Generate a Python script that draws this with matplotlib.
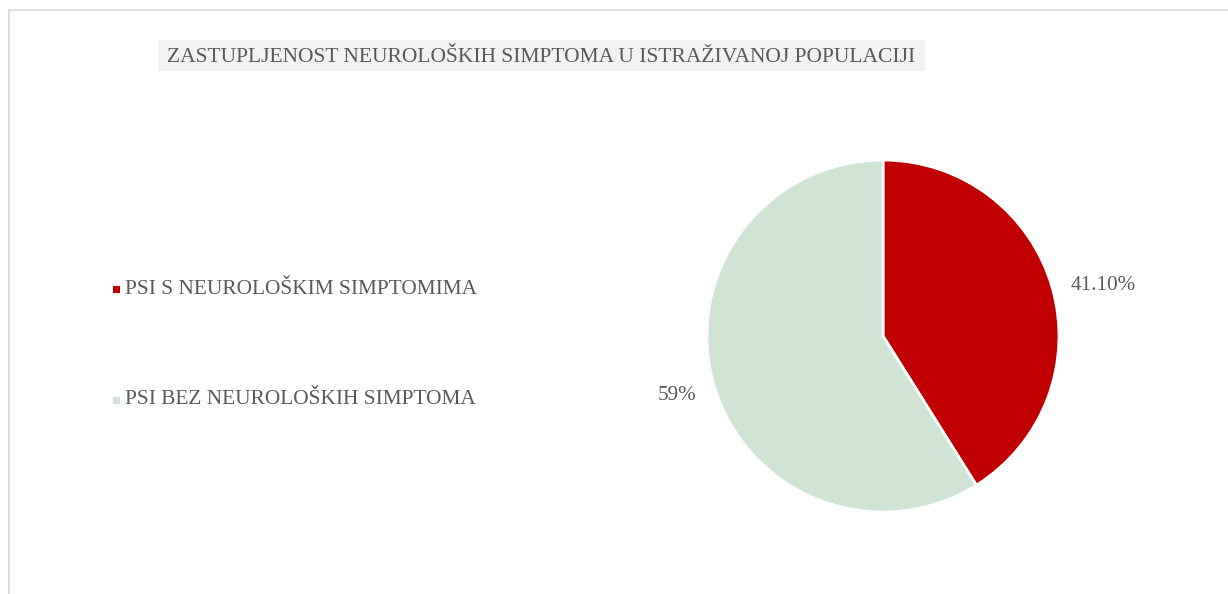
import matplotlib.pyplot as plt
from matplotlib.patches import Rectangle
import numpy as np

plt.rcParams['font.family'] = ['Liberation Serif', 'DejaVu Serif']

title = 'ZASTUPLJENOST NEUROLOŠKIH SIMPTOMA U ISTRAŽIVANOJ POPULACIJI'
categories = ['PSI S NEUROLOŠKIM SIMPTOMIMA', 'PSI BEZ NEUROLOŠKIH SIMPTOMA']
values = [41.1, 58.9]
value_labels = ['41.10%', '59%']
colors = ['#C00000', '#CFE4D4']
text_color = '#595959'

W, H = 1228, 594
fig = plt.figure(figsize=(W / 100, H / 100), dpi=100)

# outer chart border (cut off at right/bottom like a screenshot)
fig.patches.append(Rectangle((9 / W, -0.1), 1.2, 1 - 10 / H + 0.1, transform=fig.transFigure,
                             fill=False, edgecolor='#D9D9D9', linewidth=1.2))

# title with grey box
fig.patches.append(Rectangle((158 / W, 1 - 71 / H), (925 - 158) / W, 31 / H,
                             transform=fig.transFigure, facecolor='#F2F2F2', edgecolor='none'))
fig.text(541 / W, 1 - 58 / H, title, ha='center', va='center', fontsize=15.5, color=text_color)

# pie axes: center (883, 336), radius 176 px
cx, cy, r = 883, 336, 176
ax = fig.add_axes([(cx - r) / W, 1 - (cy + r) / H, 2 * r / W, 2 * r / H])
wedges, _ = ax.pie(values, colors=colors, startangle=90, counterclock=False,
                   wedgeprops=dict(edgecolor='white', linewidth=2))
ax.set_xlim(-1, 1)
ax.set_ylim(-1, 1)
ax.set_aspect('equal')
ax.axis('off')

for w, lab, dist, dy in zip(wedges, value_labels, [1.3, 1.22], [-0.07, 0.0]):
    ang = np.deg2rad((w.theta1 + w.theta2) / 2)
    ax.text(dist * np.cos(ang), dist * np.sin(ang) + dy, lab, ha='center', va='center',
            fontsize=15.2, color=text_color, clip_on=False)

# legend
for i, (cat, col) in enumerate(zip(categories, colors)):
    y = 1 - (289 + i * 111) / H
    fig.patches.append(Rectangle((113 / W, y - 3.5 / H), 7 / W, 7 / H, transform=fig.transFigure,
                                 facecolor=col, edgecolor='none'))
    fig.text(125 / W, y, cat, ha='left', va='center', fontsize=15.4, color=text_color)

fig.savefig('out.png', dpi=100, facecolor='white')
